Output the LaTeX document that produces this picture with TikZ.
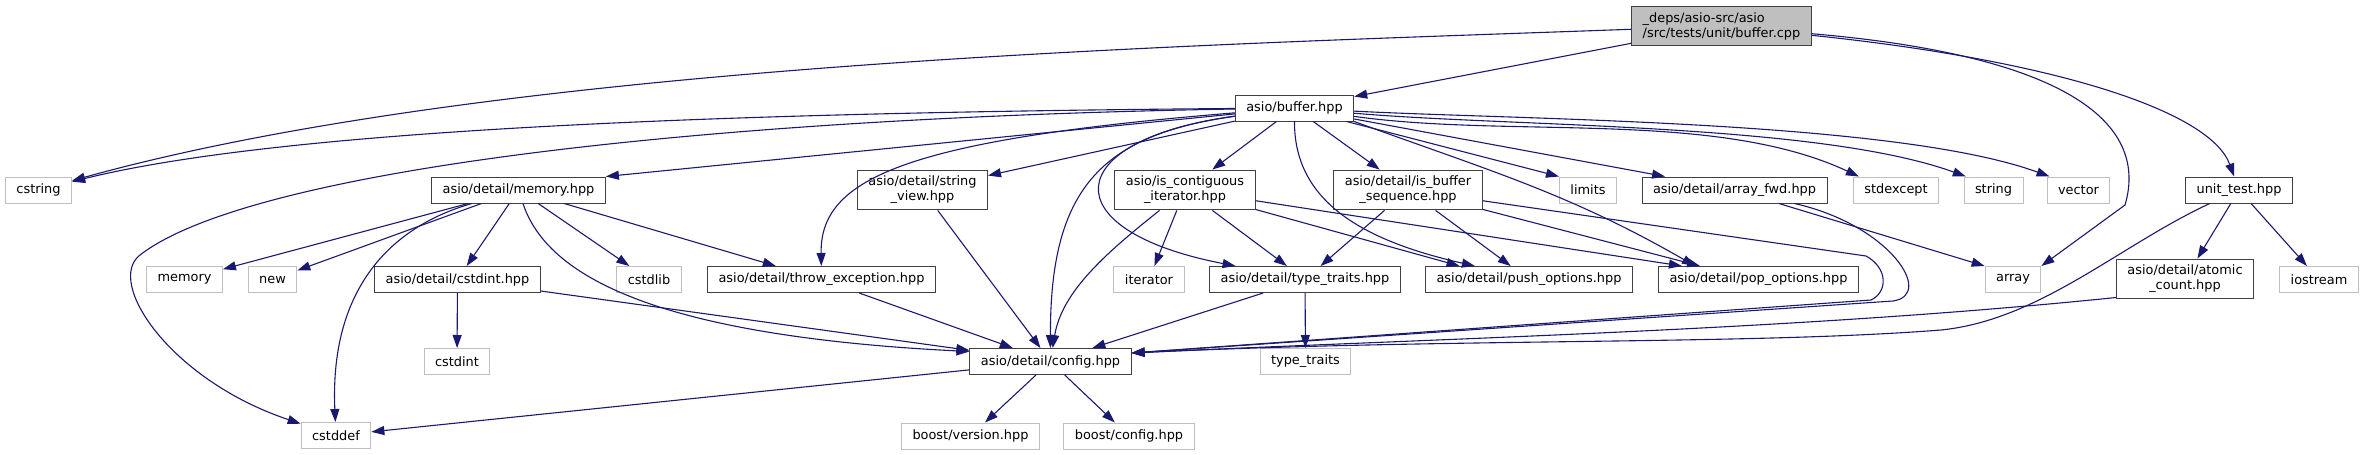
\documentclass[tikz,border=0pt]{standalone}
\usepackage{fontspec}
\setmainfont{DejaVu Sans}
\usetikzlibrary{arrows.meta}
\definecolor{edgeblue}{HTML}{191970}
\definecolor{rootgray}{HTML}{BFBFBF}
\definecolor{boxgray}{HTML}{404040}

\begin{document}
\begin{tikzpicture}[x=1pt,y=1pt,
  inc/.style={draw=boxgray,line width=1pt,fill=white,font=\fontsize{12.9}{15}\selectfont,inner xsep=11pt,inner ysep=6pt,minimum height=26pt,align=center},
  sys/.style={inc,draw=rootgray},
  dep/.style={-{Triangle[length=13pt,width=9pt]},draw=edgeblue,line width=1.1pt}]
\useasboundingbox (0,0) rectangle (2364,-455);
\node[inc,fill=rootgray,align=left] (root) at (1721.5,-26) {\_deps/asio-src/asio\\/src/tests/unit/buffer.cpp};
\node[inc] (bufhpp) at (1294.5,-108) {asio/buffer.hpp};
\node[sys] (cstring) at (38.5,-190) {cstring};
\node[inc] (memhpp) at (518.5,-190) {asio/detail/memory.hpp};
\node[inc] (strview) at (922.5,-190) {asio/detail/string\\\_view.hpp};
\node[inc] (iscontig) at (1185,-190) {asio/is\_contiguous\\\_iterator.hpp};
\node[inc] (isbufseq) at (1408,-190) {asio/detail/is\_buffer\\\_sequence.hpp};
\node[sys] (limits) at (1588,-190) {limits};
\node[inc] (arrfwd) at (1734.5,-190) {asio/detail/array\_fwd.hpp};
\node[sys] (stdexcept) at (1896,-190) {stdexcept};
\node[sys] (string) at (1993.5,-190) {string};
\node[sys] (vector) at (2078.5,-190) {vector};
\node[inc] (unittest) at (2239,-190) {unit\_test.hpp};
\node[sys] (memory) at (184.5,-279.5) {memory};
\node[sys] (new) at (272.5,-279.5) {new};
\node[inc] (cstdinthpp) at (457.5,-279.5) {asio/detail/cstdint.hpp};
\node[sys] (cstdlib) at (649,-279.5) {cstdlib};
\node[inc] (throwexc) at (821.5,-279.5) {asio/detail/throw\_exception.hpp};
\node[sys] (iterator) at (1149,-279.5) {iterator};
\node[inc] (typetraitshpp) at (1305,-279.5) {asio/detail/type\_traits.hpp};
\node[inc] (pushopt) at (1529,-279.5) {asio/detail/push\_options.hpp};
\node[inc] (popopt) at (1758.5,-279.5) {asio/detail/pop\_options.hpp};
\node[sys] (array) at (2013,-279.5) {array};
\node[inc] (atomic) at (2185,-279) {asio/detail/atomic\\\_count.hpp};
\node[sys] (iostream) at (2319,-279.5) {iostream};
\node[sys] (cstdint) at (457,-361.5) {cstdint};
\node[inc] (config) at (1050.5,-361.5) {asio/detail/config.hpp};
\node[sys] (typetraits) at (1305.5,-361.5) {type\_traits};
\node[sys] (cstddef) at (336,-435.5) {cstddef};
\node[sys] (boostver) at (970.5,-436) {boost/version.hpp};
\node[sys] (boostcfg) at (1129,-436) {boost/config.hpp};
\draw[dep] (root) -- (bufhpp);
\draw[dep] (root) .. controls (1200,-45) and (500,-62) .. (cstring);
\draw[dep] (root) .. controls (2060,-55) and (2150,-120) .. (2125,-205) -- (array.north east);
\draw[dep] (root) .. controls (2050,-60) and (2210,-110) .. (unittest);
\draw[dep] (bufhpp) .. controls (800,-112) and (300,-125) .. (cstring);
\draw[dep] (bufhpp) .. controls (700,-118) and (250,-170) .. (140,-255) .. controls (105,-282) and (170,-380) .. (cstddef);
\draw[dep] (bufhpp) -- (memhpp.north east);
\draw[dep] (bufhpp) .. controls (900,-140) and (820,-180) .. (throwexc);
\draw[dep] (bufhpp) -- (strview);
\draw[dep] (bufhpp) .. controls (1100,-135) and (1050,-190) .. (config);
\draw[dep] (bufhpp) .. controls (1060,-140) and (1050,-230) .. (typetraitshpp.169);
\draw[dep] (bufhpp) -- (iscontig);
\draw[dep] (bufhpp) -- (isbufseq);
\draw[dep] (bufhpp.south) .. controls (1294,-200) and (1360,-240) .. (pushopt.166);
\draw[dep] (bufhpp.south east) to[out=-20,in=150] (popopt.168);
\draw[dep] (bufhpp) -- (limits.north west);
\draw[dep] (bufhpp) -- (arrfwd.169);
\draw[dep] (bufhpp) to[out=-8,in=155,looseness=.8] (stdexcept.160);
\draw[dep] (bufhpp) to[out=-5,in=160,looseness=.65] (string.154);
\draw[dep] (bufhpp) to[out=-3,in=160,looseness=.6] (vector.155);
\draw[dep] (memhpp) -- (memory);
\draw[dep] (memhpp) -- (new);
\draw[dep] (memhpp) .. controls (380,-230) and (330,-300) .. (cstddef);
\draw[dep] (memhpp) -- (cstdinthpp);
\draw[dep] (memhpp) -- (cstdlib);
\draw[dep] (memhpp) -- (throwexc);
\draw[dep] (memhpp) .. controls (545,-270) and (640,-335) .. (config.173);
\draw[dep] (cstdinthpp) -- (cstdint);
\draw[dep] (cstdinthpp) -- (config);
\draw[dep] (throwexc) -- (config);
\draw[dep] (strview) -- (config);
\draw[dep] (iscontig) -- (iterator);
\draw[dep] (iscontig) .. controls (1110,-250) and (1062,-290) .. (config);
\draw[dep] (iscontig) -- (typetraitshpp);
\draw[dep] (iscontig) -- (pushopt.169);
\draw[dep] (iscontig) -- (popopt.170);
\draw[dep] (isbufseq) -- (typetraitshpp);
\draw[dep] (isbufseq) -- (pushopt);
\draw[dep] (isbufseq) -- (popopt.167);
\draw[dep] (isbufseq) -- (1866,-256) .. controls (1888,-268) and (1888,-292) .. (1871,-300) -- (config.6);
\draw[dep] (arrfwd) -- (array.north west);
\draw[dep] (arrfwd) .. controls (1890,-225) and (1935,-295) .. (1893,-301) -- (config.6);
\draw[dep] (unittest) -- (atomic);
\draw[dep] (unittest) -- (iostream);
\draw[dep] (unittest) .. controls (2120,-245) and (2040,-320) .. (1941,-330) .. controls (1750,-345) and (1450,-338) .. (config.6);
\draw[dep] (atomic.195) .. controls (1800,-330) and (1450,-338) .. (config.6);
\draw[dep] (typetraitshpp) -- (typetraits);
\draw[dep] (typetraitshpp) -- (config);
\draw[dep] (config) -- (cstddef);
\draw[dep] (config) -- (boostver);
\draw[dep] (config) -- (boostcfg);
\end{tikzpicture}
\end{document}
